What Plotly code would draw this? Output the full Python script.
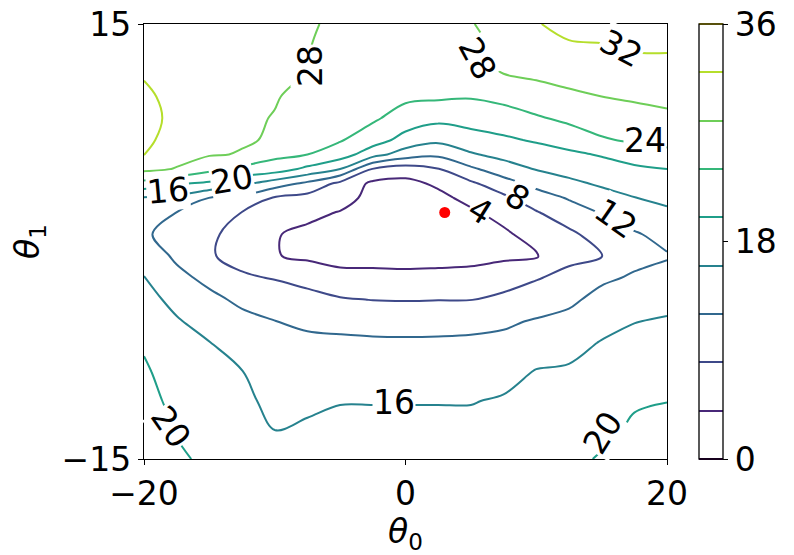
import numpy as np
import plotly.graph_objects as go

# grid of the loss landscape
theta0 = [-20, -17.5, -15, -12.5, -10, -7.5, -5, -2.5, 0, 2.5, 5, 7.5, 10, 12.5, 15, 17.5, 20]
theta1 = [-15, -13, -11, -9, -7, -5.5, -4, -2.5, -1, 0.5, 2, 3, 4, 5, 6, 7, 8.5, 10, 12, 13.5, 15]

# one list per theta0 column, values going up theta1
loss_cols = [
    [23, 22.2, 21.4, 20.6, 19.5, 18.4, 17.3, 16.15, 14.3, 12.4, 14.5, 15.65, 22.7, 29, 32.1, 33.05, 33.65, 32.6, 31.5, 30.75, 30],
    [20.4, 19.85, 18.9, 18.0, 17.05, 16.33, 14.95, 13.0, 11.35, 10.85, 11.96, 14.9, 20.4, 27.8, 29.2, 30.0, 30.7, 31, 30.7, 30.3, 30],
    [19.5, 18.65, 17.8, 16.95, 16.1, 14.55, 12.9, 11.05, 8.3, 8.7, 10.9, 11.9, 19.3, 25.1, 28.3, 29.15, 30, 30.2, 30.2, 30.1, 30],
    [18.5, 17.7, 16.9, 16.1, 14.4, 13.0, 11.25, 8.45, 6.9, 6.5, 7.9, 10.9, 16.9, 23.05, 27.8, 28.3, 28.8, 29.1, 29.3, 29.4, 29.5],
    [17, 16, 14.95, 13.9, 12.85, 12.05, 10.0, 7.8, 4.2, 4.25, 5.5, 7.6, 14.0, 22.0, 25.0, 27.7, 27.8, 28.3, 28.4, 28.7, 29],
    [17, 16.4, 15.45, 14.1, 12.7, 11.4, 9.35, 6.65, 3.3, 3.1, 5.0, 6.6, 11.1, 19.1, 24.0, 24.6, 25.6, 26.7, 28.05, 28.2, 28.35],
    [18, 16.95, 15.85, 14.3, 12.7, 10.95, 8.35, 5.0, 2.9, 2.8, 3.8, 5.5, 7.0, 16, 22, 24.3, 24.8, 25.3, 26.05, 26.6, 27.4],
    [18, 16.95, 15.85, 14.2, 12.6, 10.6, 7.9, 4.9, 2.9, 2.5, 2.6, 2.8, 3.2, 7.8, 17.6, 21.8, 24.6, 25.2, 26, 26.75, 27.5],
    [18, 16.95, 15.85, 14.2, 12.55, 10.55, 7.8, 4.8, 2.8, 2.3, 2.35, 2.6, 2.9, 6.0, 14.0, 18.6, 22.2, 24.8, 25.6, 26.3, 27.5],
    [18, 16.95, 15.85, 14.2, 12.6, 10.6, 7.9, 4.9, 2.9, 2.3, 2.5, 3.0, 4.65, 7.85, 12.75, 16.9, 21.0, 24.6, 25.6, 26.4, 27.3],
    [18, 16.95, 15.85, 14.3, 12.75, 10.75, 7.9, 5.1, 3.0, 2.6, 3.4, 5.1, 7.35, 11.3, 15.6, 18.25, 21.7, 24.25, 25.8, 26.8, 27.8],
    [18.2, 17.25, 16.35, 14.8, 13.0, 11.35, 9.0, 6.0, 3.4, 3.3, 5.4, 7.2, 10.3, 14.2, 17.15, 19.4, 22.2, 25.1, 28.8, 29.1, 29.5],
    [18.5, 17.75, 16.95, 16.2, 14.2, 12.35, 9.85, 7.75, 3.6, 5.6, 7.7, 10.2, 13.1, 16.2, 18.3, 20.4, 23.5, 26.55, 29.15, 30.45, 31.8],
    [19.2, 18.3, 17.4, 16.45, 14.85, 13.1, 11.2, 9.0, 7.1, 7.15, 10.3, 12.3, 15.15, 17.35, 19.3, 21.6, 24.9, 27.3, 29.85, 31.65, 33],
    [20.3, 19.25, 18.25, 17.2, 16.2, 14.85, 13.25, 11.3, 7.8, 9.8, 12.2, 14.45, 16.55, 18.35, 20.3, 23.6, 25.9, 28, 30.15, 31.8, 33.5],
    [21, 20.45, 19.7, 18.35, 16.95, 15.9, 14.2, 12.45, 10.9, 11.6, 14.15, 15.9, 17.6, 19.25, 21.9, 24.55, 26.6, 28.5, 30.85, 32.5, 34],
    [22, 20.95, 19.95, 18.6, 17.3, 16.35, 14.9, 13.3, 11.7, 13.25, 15.35, 16.85, 18.45, 20, 23.1, 25.0, 27.2, 29.0, 31.0, 32.5, 34],
]

best_theta = [3, 2]

# inline contour labels: text, theta0, theta1, angle
label_text = ["28", "28", "32", "24", "16", "20", "8", "4", "12", "16", "20", "20"]
label_x = [-7.3, 5.5, 16.5, 18.3, -18.2, -13.3, 8.6, 5.7, 16.1, -0.9, -17.9, 15.1]
label_y = [12.1, 12.6, 13.3, 7.0, 3.5, 4.25, 3.05, 2.15, 1.6, -11.1, -12.8, -13.2]
label_angle = [-90, 62, 28, 0, -5, -10, 32, 32, 35, 0, 55, -58]

font = "DejaVu Sans"
z = np.array(loss_cols).T

fig = go.Figure()
fig.add_trace(go.Contour(
    x=theta0, y=theta1, z=z,
    zmin=0, zmax=36,
    colorscale="Viridis",
    contours=dict(start=0, end=36, size=4, coloring="lines"),
    line=dict(width=2),
    colorbar=dict(
        thickness=24, len=1, lenmode="fraction", ypad=0, xpad=0,
        x=1.061, xanchor="left", y=0.5, yanchor="middle",
        outlinecolor="black", outlinewidth=1.3,
        tickvals=[0, 18, 36], ticks="outside", ticklen=5, tickwidth=1.3,
        tickcolor="black", ticklabeloverflow="allow",
        tickfont=dict(size=33, color="black", family=font),
    ),
    showscale=True,
))

fig.add_trace(go.Scatter(
    x=[best_theta[0]], y=[best_theta[1]], mode="markers",
    marker=dict(color="red", size=11), showlegend=False,
))

for t, lx, ly, ang in zip(label_text, label_x, label_y, label_angle):
    fig.add_annotation(x=lx, y=ly, text=t, textangle=ang, showarrow=False,
                       font=dict(size=33, color="black", family=font),
                       bgcolor="white", borderpad=0)

axis_style = dict(showline=True, mirror=True, linecolor="black", linewidth=1.3,
                  ticks="outside", ticklen=5, tickwidth=1.3, tickcolor="black",
                  showgrid=False, zeroline=False, automargin=True,
                  ticklabeloverflow="allow",
                  tickfont=dict(size=33, color="black", family=font))

# page body adds an 8px margin, so the figure is 8px smaller than the window
fig.update_layout(
    width=786, height=547,
    margin=dict(l=136, r=127, t=16, b=96, autoexpand=False),
    plot_bgcolor="white", paper_bgcolor="white",
    showlegend=False,
    font=dict(family=font, color="black"),
    xaxis=dict(range=[-20, 20], tickvals=[-20, 0, 20],
               title=dict(text="<i>θ</i><sub>0</sub>", font=dict(size=33), standoff=0),
               **axis_style),
    yaxis=dict(range=[-15, 15], tickvals=[-15, 15],
               title=dict(text="<i>θ</i><sub>1</sub>", font=dict(size=33), standoff=22),
               **axis_style),
)

fig.write_html("out.html")
